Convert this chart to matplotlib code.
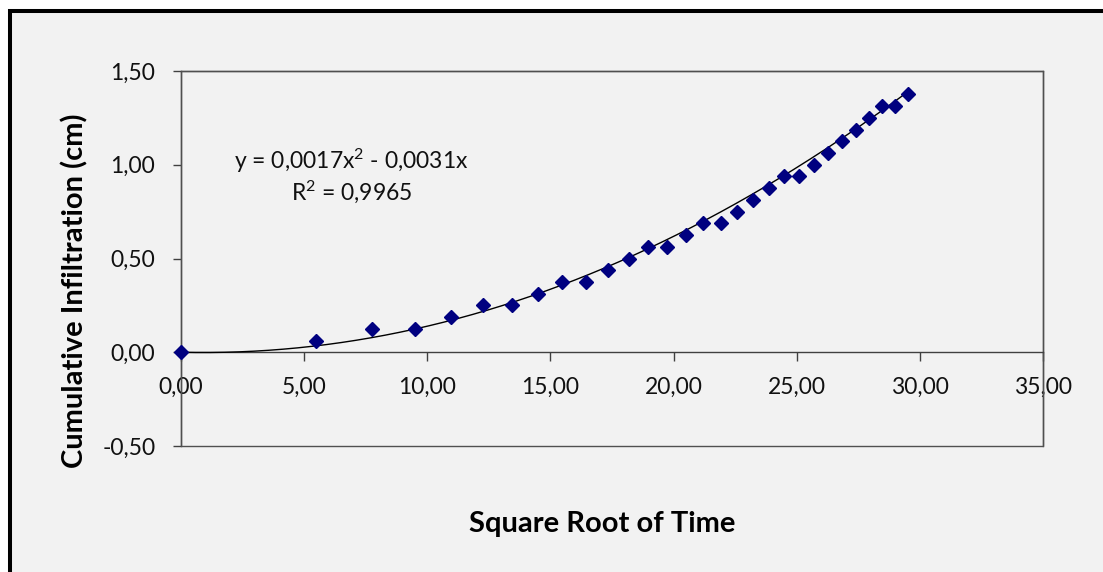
import numpy as np
import matplotlib
matplotlib.use("Agg")
import matplotlib.pyplot as plt
from matplotlib.patches import Rectangle
from matplotlib.ticker import FuncFormatter

plt.rcParams['font.family'] = ['Lato', 'DejaVu Sans']
plt.rcParams['mathtext.fontset'] = 'custom'
plt.rcParams['mathtext.rm'] = 'Lato'
plt.rcParams['mathtext.it'] = 'Lato'
plt.rcParams['mathtext.default'] = 'rm'

# Square root of elapsed time and the measured cumulative infiltration (cm)
sqrt_time = [0.00, 5.48, 7.75, 9.49, 10.95, 12.25, 13.42, 14.49, 15.49, 16.43,
             17.32, 18.17, 18.97, 19.75, 20.49, 21.21, 21.91, 22.58, 23.24,
             23.87, 24.49, 25.10, 25.69, 26.27, 26.83, 27.39, 27.93, 28.46,
             28.98, 29.50]
infiltration = [0.0000, 0.0625, 0.1250, 0.1250, 0.1875, 0.2500, 0.2500, 0.3125,
                0.3750, 0.3750, 0.4375, 0.5000, 0.5625, 0.5625, 0.6250, 0.6875,
                0.6875, 0.7500, 0.8125, 0.8750, 0.9375, 0.9375, 1.0000, 1.0625,
                1.1250, 1.1875, 1.2500, 1.3125, 1.3125, 1.3750]

# Second-order polynomial trendline (intercept fixed at zero)
coef_a = 0.0017
coef_b = -0.0031
r_squared = 0.9965

x_ticks = [0, 5, 10, 15, 20, 25, 30, 35]
y_ticks = [-0.5, 0.0, 0.5, 1.0, 1.5]

W, H = 1103, 572
fig = plt.figure(figsize=(W / 100, H / 100), dpi=100)
fig.patch.set_facecolor('white')

# chart area with heavy black border
top = 1 - 11 / H
fig.patches.append(Rectangle((10 / W, -0.2), 1.3, top + 0.2,
                             transform=fig.transFigure, facecolor='#F2F2F2',
                             edgecolor='black', linewidth=2.9, zorder=-10))

ax = fig.add_axes([181 / W, 126 / H, 862 / W, 375 / H])
ax.set_facecolor('#F2F2F2')
ax.set_xlim(0, 35)
ax.set_ylim(-0.5, 1.5)

# plot-area outline
for s in ['top', 'right', 'left']:
    ax.spines[s].set_color('#505050')
    ax.spines[s].set_linewidth(1.0)
ax.spines['bottom'].set_position(('data', 0))
ax.spines['bottom'].set_color('#404040')
ax.spines['bottom'].set_linewidth(1.0)
ax.add_patch(Rectangle((0, 0), 1, 1, transform=ax.transAxes, fill=False,
                       edgecolor='#505050', linewidth=1.0, clip_on=False, zorder=1))

fmt = FuncFormatter(lambda v, p: f"{v:.2f}".replace('.', ','))
ax.xaxis.set_major_formatter(fmt)
ax.yaxis.set_major_formatter(fmt)
ax.set_xticks(x_ticks)
ax.set_yticks(y_ticks)
ax.tick_params(axis='x', direction='out', length=6.5, width=1.0, color='#404040',
               pad=11, labelsize=16.5, labelcolor='#111111')
ax.tick_params(axis='y', direction='out', length=6, width=1.0, color='#404040',
               pad=12.5, labelsize=16.5, labelcolor='#111111')

# trendline
xs = np.linspace(0, max(sqrt_time), 300)
ax.plot(xs, coef_a * xs ** 2 + coef_b * xs, color='black', linewidth=1.0, zorder=3)

# observations
ax.plot(sqrt_time, infiltration, linestyle='none', marker='D', markersize=7,
        color='#000080', markeredgecolor='#000080', zorder=4, clip_on=False)

ax.text(0.198, 0.76, r"y = 0,0017$\mathrm{x}^{2}$ - 0,0031x", transform=ax.transAxes,
        ha='center', va='center', fontsize=16.5, color='#111111')
ax.text(0.198, 0.677, r"$\mathrm{R}^{2}$ = 0,9965", transform=ax.transAxes,
        ha='center', va='center', fontsize=16.5, color='#111111')

fig.text(602 / W, 1 - 524 / H, "Square Root of Time", ha='center', va='center',
         fontsize=21, fontweight='bold', color='black')
fig.text(75 / W, 1 - 291 / H, "Cumulative Infiltration (cm)", ha='center',
         va='center', rotation=90, fontsize=21, fontweight='bold', color='black')

fig.savefig('out.png', dpi=100, facecolor=fig.get_facecolor())
